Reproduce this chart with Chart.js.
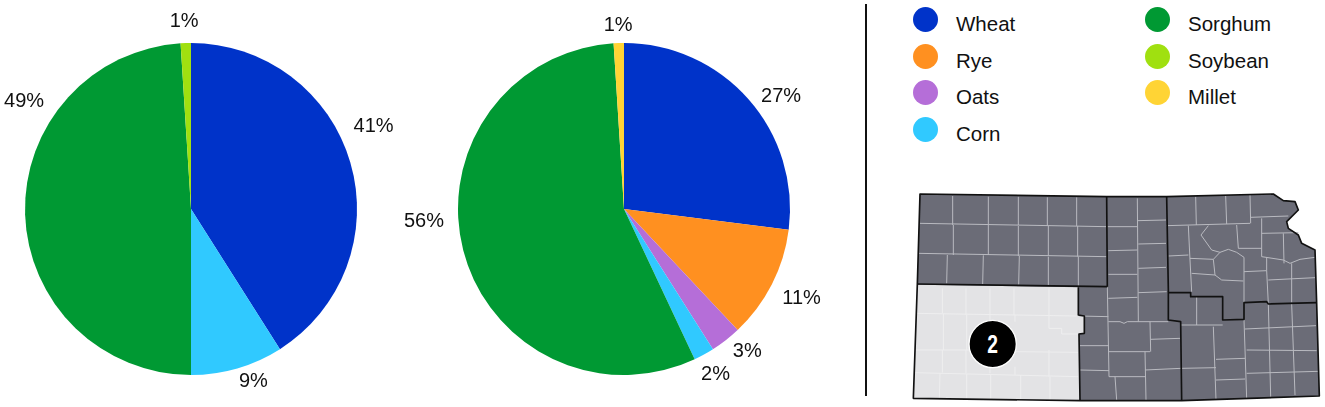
<!DOCTYPE html>
<html>
<head>
<meta charset="utf-8">
<script src="https://cdn.jsdelivr.net/npm/chart.js@4"></script>
<style>
    html, body { margin: 0; padding: 0; background: #fff; }
    #page { position: relative; width: 1325px; height: 407px; overflow: hidden; font-family: "Liberation Sans", sans-serif; color: #111; }
    canvas { position: absolute; top: 0; }
    #divider { position: absolute; left: 865px; top: 4px; width: 2px; height: 392px; background: #111; }
    .legend-item { position: absolute; font-size: 20.5px; line-height: 26px; white-space: nowrap; }
    .legend-dot { position: absolute; left: 0; top: 0; width: 25px; height: 25px; border-radius: 50%; }
    .legend-item span { position: absolute; left: 43px; top: 4px; }
    #map { position: absolute; left: 900px; top: 180px; }
</style>
</head>
<body>
<div id="page">
    <canvas id="pieLeft" width="420" height="407" style="left:0"></canvas>
    <canvas id="pieRight" width="484" height="407" style="left:382px"></canvas>
    <div id="divider"></div>
    <div id="legend"></div>

    <!-- Kansas crop reporting regions, coordinates are 3x the drawn size -->
    <svg id="map" width="425" height="227" viewBox="0 0 1275 681">
        <path id="state" fill="#6b6c77" d="M60 42 L620 50 L800 50 L1120 42 L1150 62 L1185 65 L1195 90 L1160 125 L1165 145 L1195 165 L1205 190 L1245 210 L1250 370 L1258 648 L845 662 L540 662 L40 655 L52 312 Z"/>
        <path fill="#e3e3e5" d="M52 314 L535 322 L535 405 L553 408 L553 460 L537 462 L540 662 L40 655 Z"/>
        <g fill="none" stroke="#eeeeef" stroke-width="3">
            <path d="M127 325V400M198 325V405M270 325V405M342 325V405M447 325V445M130 402V510M200 405V510M270 405V425M345 405V425M127 510V578M198 510V580M270 560V580M345 560V585M447 510V590M120 580L118 658M200 582V660M272 582V660M362 585V660M450 590V660"/>
            <path d="M48 400L530 408M45 510L210 510M345 515L535 517M42 578L535 590M447 445H485V462H535"/>
        </g>
        <g fill="none" stroke="#b9bac0" stroke-width="3">
            <path d="M158 48V135M265 50V135M355 50V135M442 52V138M530 52V138M160 135V225M265 135V225M355 138V228M445 138V228M533 138V230M142 225L140 310M250 226L248 312M358 228L356 314M445 230V315M535 230V318M60 130L620 140M55 220L620 230"/>
            <path d="M712 55L715 425M622 140H712M625 212L712 210M625 283H712M625 355L712 352M712 122L798 120M715 192L798 190M715 265L798 262M715 338L800 335M625 425H660L672 430L682 425H805"/>
            <path d="M537 408L625 410M622 320L627 590M540 497H627M540 570L627 572M627 515H750M750 425L752 515M752 478L840 475M735 515L738 660M735 570L843 565M627 590H738M645 590L650 660"/>
            <path d="M800 137L1050 130M887 50L889 135M977 48L980 132M1050 45L1052 130M1052 112L1165 108M805 228L865 225M865 137L870 240L875 335M925 137L903 165L935 210L960 217L985 208L1010 217L1032 232M1010 135L1015 205H1085M1085 115V230M1085 160L1195 158M1150 160L1152 250M1085 230L1150 240L1170 250L1200 238L1245 232M870 235L940 238L960 217M940 238L945 285L965 300L1030 303M875 280L945 285M1032 232V368M1032 275L1100 272V232M1100 272L1105 372M1175 250V368M1105 300L1245 293"/>
            <path d="M890 350V435M842 435H968M940 440L948 660M948 538L1035 535M948 600L1035 597M845 565L948 563M1032 420L1040 655M1035 447L1248 437M1040 510L1250 512M1040 580L1255 574M1105 372L1112 650M1175 372L1185 645"/>
        </g>
        <g fill="none" stroke="#111" stroke-width="5" stroke-linejoin="round">
            <path d="M52 312L622 320M620 50L622 320"/>
            <path d="M535 322V405L553 408V460L537 462L540 662"/>
            <path d="M800 50L805 330V420L842 425L845 662"/>
            <path d="M805 338H872V350H968V420L1032 418V368L1100 365L1105 372L1250 368"/>
            <path d="M60 42 L620 50 L800 50 L1120 42 L1150 62 L1185 65 L1195 90 L1160 125 L1165 145 L1195 165 L1205 190 L1245 210 L1250 370 L1258 648 L845 662 L540 662 L40 655 L52 312 Z"/>
        </g>
        <circle cx="278" cy="492" r="71" fill="#000" stroke="#fff" stroke-width="4"/>
        <text transform="translate(278 520) scale(0.72 1)" text-anchor="middle" fill="#fff" font-family="Liberation Sans" font-weight="bold" font-size="80">2</text>
    </svg>
</div>

<script>
const crops = ['Wheat', 'Rye', 'Oats', 'Corn', 'Sorghum', 'Soybean', 'Millet'];
const cropColors = ['#0033c9', '#ff9020', '#b56ed8', '#30c9ff', '#009933', '#a0e010', '#ffd435'];
const leftValues = [41, 0, 0, 9, 49, 1, 0];
const rightValues = [27, 11, 3, 2, 56, 0, 1];

// nudges for the % labels, from their default spot just outside the slice
const leftNudges = [[2, -30], [0, 0], [0, 0], [10, -8], [21, -113], [-1, 0], [0, 0]];
const rightNudges = [[16, 12], [10, 4], [8, -6], [1, 1], [-18, -34], [0, 0], [0, 4]];

const percentLabels = {
    id: 'percentLabels',
    afterDatasetsDraw: function(chart, args, opts) {
        const ctx = chart.ctx;
        const values = chart.data.datasets[0].data;
        ctx.save();
        ctx.font = '20px "Liberation Sans", sans-serif';
        ctx.fillStyle = '#111';
        ctx.textAlign = 'center';
        ctx.textBaseline = 'middle';
        chart.getDatasetMeta(0).data.forEach(function(arc, i) {
            if (!values[i]) return;
            const mid = (arc.startAngle + arc.endAngle) / 2;
            const r = arc.outerRadius + 22;
            const x = arc.x + Math.cos(mid) * r + opts.nudges[i][0];
            const y = arc.y + Math.sin(mid) * r + opts.nudges[i][1];
            ctx.fillText(values[i] + '%', x, y);
        });
        ctx.restore();
    }
};

function drawPie(id, values, nudges, padLeft, padRight) {
    new Chart(document.getElementById(id).getContext('2d'), {
        type: 'pie',
        data: {
            labels: crops,
            datasets: [{
                data: values,
                backgroundColor: cropColors,
                borderWidth: 0
            }]
        },
        options: {
            responsive: false,
            animation: false,
            layout: {
                padding: { top: 43, bottom: 32, left: padLeft, right: padRight }
            },
            plugins: {
                legend: { display: false },
                tooltip: { enabled: false },
                percentLabels: { nudges: nudges }
            }
        },
        plugins: [percentLabels]
    });
}

drawPie('pieLeft', leftValues, leftNudges, 25, 63);
drawPie('pieRight', rightValues, rightNudges, 76, 76);

// Legend, two columns: first four crops, then the rest
const legendBox = document.getElementById('legend');
crops.forEach(function(crop, i) {
    const col = i < 4 ? 0 : 1;
    const row = i < 4 ? i : i - 4;
    const item = document.createElement('div');
    item.className = 'legend-item';
    item.style.left = (col === 0 ? 913 : 1145) + 'px';
    item.style.top = (7 + row * 36.6) + 'px';
    item.innerHTML = '<div class="legend-dot" style="background:' + cropColors[i] + '"></div><span>' + crop + '</span>';
    legendBox.appendChild(item);
});
</script>
</body>
</html>
